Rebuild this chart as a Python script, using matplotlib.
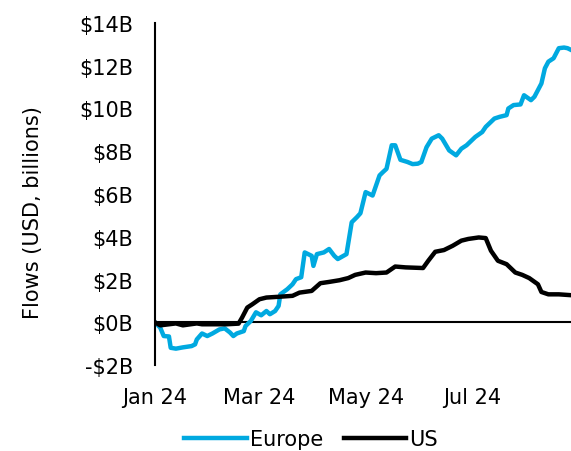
import pandas as pd
import matplotlib
matplotlib.use('Agg')
import matplotlib.pyplot as plt
import matplotlib.dates as mdates
from matplotlib.ticker import FuncFormatter, MultipleLocator

# Cumulative flows, USD billions
europe_dates = ['2024-01-01', '2024-01-04', '2024-01-06', '2024-01-09', '2024-01-10', '2024-01-13',
                '2024-01-17', '2024-01-22', '2024-01-24', '2024-01-25', '2024-01-28', '2024-01-31',
                '2024-02-03', '2024-02-07', '2024-02-10', '2024-02-13', '2024-02-15', '2024-02-17',
                '2024-02-21', '2024-02-22', '2024-02-25', '2024-02-28', '2024-03-02', '2024-03-05',
                '2024-03-07', '2024-03-10', '2024-03-12', '2024-03-13', '2024-03-17', '2024-03-20',
                '2024-03-22', '2024-03-25', '2024-03-27', '2024-03-31', '2024-04-01', '2024-04-03',
                '2024-04-07', '2024-04-10', '2024-04-13', '2024-04-15', '2024-04-20', '2024-04-23',
                '2024-04-26', '2024-04-28', '2024-05-01', '2024-05-05', '2024-05-09', '2024-05-11',
                '2024-05-13', '2024-05-16', '2024-05-18', '2024-05-21', '2024-05-25', '2024-05-28',
                '2024-05-31', '2024-06-02', '2024-06-05', '2024-06-08', '2024-06-12', '2024-06-14',
                '2024-06-18', '2024-06-22', '2024-06-25', '2024-06-28', '2024-07-03', '2024-07-07',
                '2024-07-09', '2024-07-14', '2024-07-17', '2024-07-21', '2024-07-22', '2024-07-25',
                '2024-07-29', '2024-07-31', '2024-08-04', '2024-08-06', '2024-08-08', '2024-08-10',
                '2024-08-12', '2024-08-14', '2024-08-17', '2024-08-20', '2024-08-23', '2024-08-25',
                '2024-08-27']
europe = [0.0, -0.25, -0.64, -0.66, -1.19, -1.23,
          -1.17, -1.11, -1.03, -0.8, -0.52, -0.64,
          -0.52, -0.33, -0.28, -0.47, -0.64, -0.52,
          -0.41, -0.17, 0.06, 0.47, 0.33, 0.53,
          0.38, 0.53, 0.77, 1.31, 1.55, 1.78,
          2.02, 2.11, 3.27, 3.11, 2.64, 3.19,
          3.27, 3.43, 3.11, 2.96, 3.19, 4.68,
          4.92, 5.1, 6.09, 5.93, 6.87, 7.03,
          7.18, 8.28, 8.28, 7.6, 7.5, 7.4,
          7.42, 7.5, 8.19, 8.59, 8.75, 8.59,
          8.04, 7.81, 8.12, 8.28, 8.67, 8.9,
          9.14, 9.53, 9.61, 9.69, 10.0, 10.16,
          10.19, 10.62, 10.39, 10.55, 10.86, 11.17,
          11.88, 12.19, 12.35, 12.82, 12.85, 12.82,
          12.74]

us_dates = ['2024-01-01', '2024-01-04', '2024-01-09', '2024-01-13', '2024-01-17', '2024-01-25',
            '2024-01-28', '2024-02-03', '2024-02-11', '2024-02-18', '2024-02-20', '2024-02-23',
            '2024-02-26', '2024-03-01', '2024-03-05', '2024-03-13', '2024-03-20', '2024-03-24',
            '2024-03-31', '2024-04-05', '2024-04-10', '2024-04-16', '2024-04-21', '2024-04-25',
            '2024-05-01', '2024-05-07', '2024-05-13', '2024-05-18', '2024-05-24', '2024-06-03',
            '2024-06-06', '2024-06-10', '2024-06-15', '2024-06-20', '2024-06-25', '2024-06-29',
            '2024-07-05', '2024-07-09', '2024-07-12', '2024-07-16', '2024-07-21', '2024-07-26',
            '2024-07-30', '2024-08-03', '2024-08-08', '2024-08-10', '2024-08-14', '2024-08-20',
            '2024-08-27']
us = [0.0, -0.14, -0.09, -0.05, -0.14, -0.05,
      -0.09, -0.09, -0.09, -0.06, 0.22, 0.69,
      0.85, 1.08, 1.16, 1.2, 1.24, 1.39,
      1.47, 1.83, 1.89, 1.97, 2.07, 2.22,
      2.33, 2.3, 2.33, 2.61, 2.57, 2.54,
      2.88, 3.3, 3.38, 3.58, 3.82, 3.9,
      3.97, 3.94, 3.35, 2.88, 2.72, 2.33,
      2.22, 2.07, 1.78, 1.42, 1.31, 1.31,
      1.27]

tick_months = ['2024-01-01', '2024-03-01', '2024-05-01', '2024-07-01']

plt.rcParams['font.family'] = 'DejaVu Sans'

fig = plt.figure(figsize=(5.71, 4.52), dpi=100)
ax = fig.add_axes([0.2715, 0.19, 0.7285, 0.757])

ax.axhline(0, color='black', linewidth=1.5, zorder=1)
ax.plot(pd.to_datetime(europe_dates), europe, color='#00a9e0', linewidth=3.2,
        label='Europe', zorder=2, solid_joinstyle='round')
ax.plot(pd.to_datetime(us_dates), us, color='black', linewidth=3.2,
        label='US', zorder=3, solid_joinstyle='round')

ax.set_ylim(-2, 14)
ax.set_xlim(pd.Timestamp('2024-01-01'), pd.Timestamp('2024-08-27'))
ax.yaxis.set_major_locator(MultipleLocator(2))
ax.yaxis.set_major_formatter(FuncFormatter(lambda v, p: f"-${abs(v):.0f}B" if v < 0 else f"${v:.0f}B"))
ax.set_xticks(pd.to_datetime(tick_months))
ax.xaxis.set_major_formatter(mdates.DateFormatter('%b %y'))

for s in ['top', 'right', 'bottom']:
    ax.spines[s].set_visible(False)
ax.spines['left'].set_linewidth(1.5)
ax.tick_params(length=0, labelsize=15)
ax.tick_params(axis='y', pad=16)
ax.tick_params(axis='x', pad=16)

ax.set_ylabel('Flows (USD, billions)', fontsize=15)
ax.yaxis.set_label_coords(-0.269, 0.45)

fig.legend(loc='center', bbox_to_anchor=(311 / 571, 1 - 440 / 452), ncol=2, frameon=False,
           fontsize=15, handlelength=3.0, handletextpad=0.15, columnspacing=1.0,
           borderpad=0)

fig.savefig('out.png', dpi=100)
